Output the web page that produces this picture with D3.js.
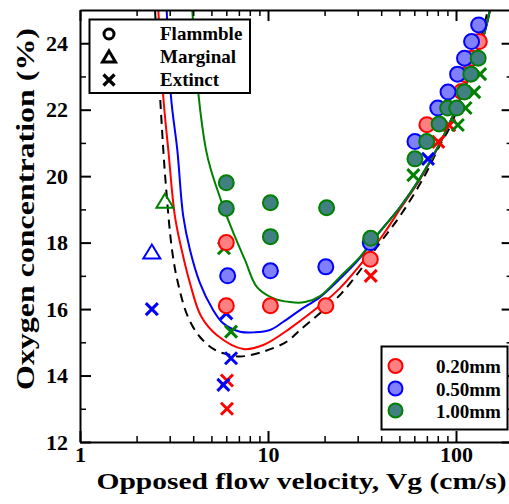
<!DOCTYPE html>
<html><head><meta charset="utf-8">
<script src="https://cdn.jsdelivr.net/npm/d3@7"></script>
<style>
body{margin:0;background:#fff}
svg{display:block}
</style>
</head><body>
<svg id="c" width="509" height="504"></svg>
<script>
// ---- data (velocity cm/s, oxygen %) ----
const xMajorTicks = [1, 10, 100];
const xMinorTicks = [2,3,4,5,6,7,8,9,20,30,40,50,60,70,80,90];
const yMajorTicks = [12, 14, 16, 18, 20, 22, 24];
const yMinorTicks = [13, 15, 17, 19, 21, 23];

const series = ["0.20mm", "0.50mm", "1.00mm"];
const states = ["Flammble", "Marginal", "Extinct"];

const redFlammable = [[6.0,18.0],[6.0,16.1],[10.3,16.1],[20.3,16.1],[35,17.5],[70,21.55],[107,22.55],[112,23.05],[122,23.55],[133,24.05]];
const redExtinct = [[6.05,13.85],[6.05,13.0],[35.2,17.0],[80.5,21.03],[92,21.53]];

const blueFlammable = [[6.1,17.0],[10.3,17.15],[20.3,17.27],[35,18.0],[60.5,21.04],[80,22.05],[90.7,22.53],[102,23.07],[111,23.55],[121,24.05],[132,24.55]];
const blueMarginal = [[2.41,17.73]];
const blueExtinct = [[2.41,16.0],[6.0,15.87],[6.36,14.52],[5.79,13.72],[71,20.52]];

const greenFlammable = [[6.0,19.8],[6.0,19.03],[10.3,19.2],[10.3,18.18],[20.5,19.05],[35.2,18.13],[60.5,20.52],[69.8,21.04],[81.3,21.57],[90.3,22.05],[100.9,22.05],[110.7,22.53],[120,23.07],[131.2,23.55]];
const greenMarginal = [[2.83,19.26]];
const greenExtinct = [[5.83,17.83],[6.36,15.32],[59.3,20.03],[102.3,21.54],[112.5,22.05],[125,22.53],[134.4,23.07]];

// boundary curves
const curveDashed = [[2.506,25.0],[2.774,20.79],[2.857,19.79],[3.086,17.78],[3.321,16.78],[3.754,15.76],[4.347,15.16],[5.226,14.77],[6.28,14.62],[7.10,14.57],[9.44,14.72],[12.58,15.02],[14.8,15.37],[24.66,16.48],[39.4,17.99],[51.6,18.89],[68.4,20.03],[82.2,20.94],[92.9,21.48],[120.9,23.19],[148.0,25.0]];
const curveRed = [[2.61,25.0],[2.774,22.38],[2.949,20.79],[3.20,18.78],[3.475,17.78],[3.847,16.78],[4.40,15.79],[5.335,15.22],[7.39,14.80],[9.44,14.92],[13.09,15.42],[20.52,16.27],[24.15,16.63],[33.5,17.57],[41.9,18.32],[50.4,19.01],[64.4,19.91],[82.2,20.98],[102.5,22.17],[118.7,23.07],[139.2,24.16],[151.7,25.0]];
const curveBlue = [[2.892,25.0],[3.049,22.38],[3.293,20.79],[3.544,18.78],[3.847,17.78],[4.347,16.78],[5.036,16.03],[5.783,15.57],[7.098,15.32],[8.53,15.30],[10.25,15.37],[12.02,15.61],[14.8,15.97],[18.9,16.36],[24.15,16.91],[30.86,17.54],[36.2,18.08],[50.4,19.07],[64.4,19.94],[82.2,21.0],[102.5,22.17],[118.7,23.07],[139.2,24.16],[151.7,25.0]];
const curveGreen = [[3.957,25.0],[4.26,22.50],[4.68,20.79],[4.97,20.19],[5.69,19.19],[6.51,18.32],[7.54,17.48],[8.74,16.66],[10.63,16.33],[13.09,16.21],[15.73,16.21],[18.9,16.39],[24.15,16.97],[30.86,17.57],[36.2,18.08],[50.4,19.07],[64.4,19.94],[82.2,21.0],[102.5,22.17],[118.7,23.07],[139.2,24.16],[151.7,25.0]];

// ---- layout ----
const svg = d3.select("#c");
const L = 80, R = 512.6, T = 10, B = 442;
const x = d3.scaleLog().domain([1, 200]).range([L, R]);
const y = d3.scaleLinear().domain([12, 25]).range([B, T]);
const FONT = '"Liberation Serif","Times New Roman",serif';

const colors = {red:{s:"#ff0000", f:"#ff8080"}, blue:{s:"#0000ff", f:"#8080ff"}, green:{s:"#008000", f:"#408080"}};

svg.append("defs").append("clipPath").attr("id","clip")
  .append("rect").attr("x",L).attr("y",T).attr("width",R-L).attr("height",B-T);

// ---- curves ----
const line = d3.line().x(d=>x(d[0])).y(d=>y(d[1])).curve(d3.curveCatmullRom.alpha(0.5));
const cg = svg.append("g").attr("clip-path","url(#clip)").attr("fill","none");
cg.append("path").attr("d", line(curveDashed)).attr("stroke","#000").attr("stroke-width",2).attr("stroke-dasharray","9,6");
cg.append("path").attr("d", line(curveRed)).attr("stroke",colors.red.s).attr("stroke-width",2);
cg.append("path").attr("d", line(curveBlue)).attr("stroke",colors.blue.s).attr("stroke-width",2);
cg.append("path").attr("d", line(curveGreen)).attr("stroke",colors.green.s).attr("stroke-width",2);

// ---- axes ----
function styleAxis(g){
  g.select(".domain").attr("stroke","#000").attr("stroke-width",2);
  g.selectAll(".tick line").attr("stroke","#000").attr("stroke-width",2);
  g.attr("font-family",FONT).attr("font-size",22).attr("font-weight","bold");
  g.selectAll(".tick text").attr("fill","#000");
}
function minorAxis(g){
  g.select(".domain").remove();
  g.selectAll(".tick line").attr("stroke","#000").attr("stroke-width",1.5);
  g.selectAll(".tick text").remove();
}
svg.append("g").attr("transform",`translate(0,${B})`)
  .call(d3.axisBottom(x).tickValues(xMajorTicks).tickSize(-11).tickSizeOuter(0).tickPadding(4).tickFormat(d3.format("d"))).call(styleAxis);
svg.append("g").attr("transform",`translate(0,${B})`)
  .call(d3.axisBottom(x).tickValues(xMinorTicks).tickSize(-6)).call(minorAxis);
svg.append("g").attr("transform",`translate(0,${T})`)
  .call(d3.axisTop(x).tickValues(xMajorTicks).tickSize(-11).tickSizeOuter(0).tickFormat("")).call(styleAxis);
svg.append("g").attr("transform",`translate(0,${T})`)
  .call(d3.axisTop(x).tickValues(xMinorTicks).tickSize(-6)).call(minorAxis);
svg.append("g").attr("transform",`translate(${L},0)`)
  .call(d3.axisLeft(y).tickValues(yMajorTicks).tickSize(-11).tickSizeOuter(0).tickPadding(12).tickFormat(d3.format("d"))).call(styleAxis);
svg.append("g").attr("transform",`translate(${L},0)`)
  .call(d3.axisLeft(y).tickValues(yMinorTicks).tickSize(-6)).call(minorAxis);
svg.append("g").attr("transform",`translate(${R},0)`)
  .call(d3.axisRight(y).tickValues(yMajorTicks).tickSize(-11).tickSizeOuter(0).tickFormat("")).call(styleAxis);
svg.append("g").attr("transform",`translate(${R},0)`)
  .call(d3.axisRight(y).tickValues(yMinorTicks).tickSize(-6)).call(minorAxis);

// ---- markers ----
function crosses(data, c, h, sw){
  const g = svg.append("g").attr("stroke",c).attr("stroke-width",sw).attr("fill","none");
  data.forEach(d=>{
    const px = x(d[0]), py = y(d[1]);
    g.append("path").attr("d",`M${px-h},${py-h}L${px+h},${py+h}M${px-h},${py+h}L${px+h},${py-h}`);
  });
}
function triangles(data, c, w, hgt, sw){
  const g = svg.append("g").attr("stroke",c).attr("stroke-width",sw).attr("fill","none");
  data.forEach(d=>{
    const px = x(d[0]), py = y(d[1]);
    g.append("path").attr("d",`M${px},${py-hgt/2}L${px+w/2},${py+hgt/2}L${px-w/2},${py+hgt/2}Z`);
  });
}
function circles(data, col){
  svg.append("g").selectAll("circle").data(data).join("circle")
    .attr("cx",d=>x(d[0])).attr("cy",d=>y(d[1])).attr("r",7.5)
    .attr("fill",col.f).attr("stroke",col.s).attr("stroke-width",2);
}
triangles(blueMarginal, colors.blue.s, 17, 14, 2);
triangles(greenMarginal, colors.green.s, 17, 14, 2);
crosses(redExtinct, colors.red.s, 6, 3);
crosses(blueExtinct, colors.blue.s, 6, 3);
crosses(greenExtinct, colors.green.s, 6, 3);
circles(redFlammable, colors.red);
circles(blueFlammable, colors.blue);
circles(greenFlammable, colors.green);

// ---- legend: states ----
const lg1 = svg.append("g");
lg1.append("rect").attr("x",89.5).attr("y",19.5).attr("width",160.5).attr("height",73.5).attr("fill","#fff").attr("stroke","#000").attr("stroke-width",2);
const l1y = [34, 57, 80];
lg1.append("circle").attr("cx",109).attr("cy",l1y[0]).attr("r",5).attr("fill","none").attr("stroke","#000").attr("stroke-width",3);
lg1.append("path").attr("d",`M109,${l1y[1]-6}L115.5,${l1y[1]+5}L102.5,${l1y[1]+5}Z`).attr("fill","none").attr("stroke","#000").attr("stroke-width",3);
lg1.append("path").attr("d",`M103.5,74.5L114.5,85.5M103.5,85.5L114.5,74.5`).attr("stroke","#000").attr("stroke-width",3.2);
lg1.selectAll("text").data(states).join("text")
  .attr("x",160).attr("y",(d,i)=>l1y[i]+6).text(d=>d)
  .attr("font-family",FONT).attr("font-weight","bold").attr("font-size",19);

// ---- legend: series ----
const lg2 = svg.append("g");
lg2.append("rect").attr("x",381.5).attr("y",346.5).attr("width",126).attr("height",83).attr("fill","#fff").attr("stroke","#000").attr("stroke-width",2);
const l2y = [366, 388.5, 410.5];
const l2c = [colors.red, colors.blue, colors.green];
series.forEach((s,i)=>{
  lg2.append("circle").attr("cx",395.5).attr("cy",l2y[i]).attr("r",7).attr("fill",l2c[i].f).attr("stroke",l2c[i].s).attr("stroke-width",2);
  lg2.append("text").attr("x",436).attr("y",l2y[i]+7).text(s)
    .attr("font-family",FONT).attr("font-weight","bold").attr("font-size",19);
});

// ---- axis titles ----
svg.append("text").attr("x",301.5).attr("y",489).attr("text-anchor","middle")
  .attr("font-family",FONT).attr("font-weight","bold").attr("font-size",24)
  .attr("textLength",410).attr("lengthAdjust","spacingAndGlyphs")
  .text("Opposed flow velocity, Vg (cm/s)");
svg.append("text").attr("transform","translate(34,209) rotate(-90)").attr("text-anchor","middle")
  .attr("font-family",FONT).attr("font-weight","bold").attr("font-size",26)
  .attr("textLength",362).attr("lengthAdjust","spacingAndGlyphs")
  .text("Oxygen concentration (%)");
</script>
</body></html>
